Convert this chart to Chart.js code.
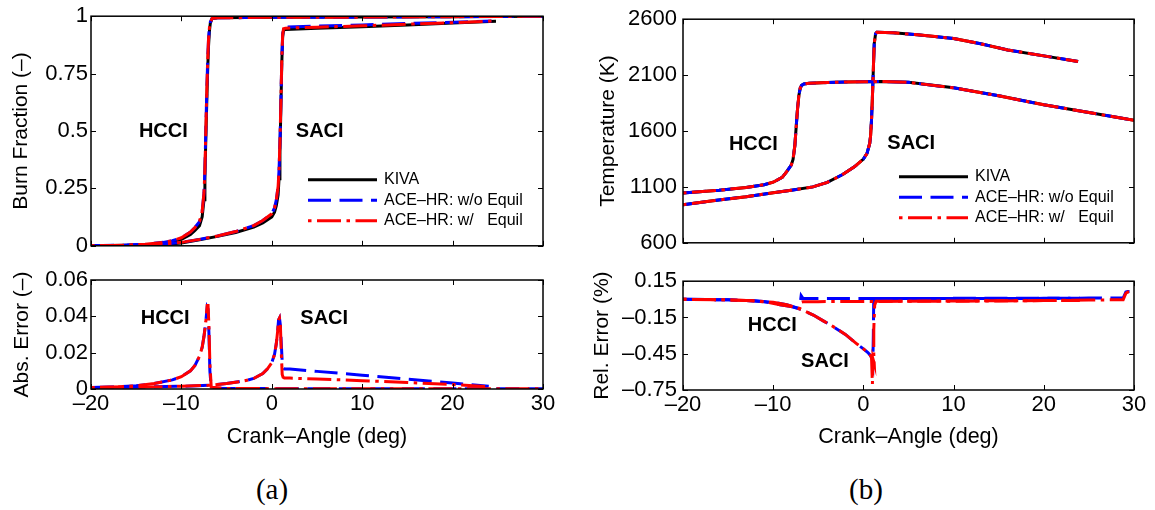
<!DOCTYPE html>
<html>
<head>
<meta charset="utf-8">
<script src="https://cdn.jsdelivr.net/npm/chart.js@4.4.0/dist/chart.umd.min.js"></script>
<style>
body { margin: 0; background: #fff; width: 1155px; height: 510px; overflow: hidden; position: relative; }
.panel { position: absolute; }
.cap { position: absolute; font-family: 'Liberation Serif', 'Times New Roman', serif; font-size: 29px; line-height: 1; transform: translateX(-50%); }
</style>
</head>
<body>
<div class="panel" style="left:0;top:0;width:560px;height:262px"><canvas id="burn"></canvas></div>
<div class="panel" style="left:0;top:262px;width:560px;height:193px"><canvas id="absErr"></canvas></div>
<div class="panel" style="left:580px;top:0;width:575px;height:262px"><canvas id="temp"></canvas></div>
<div class="panel" style="left:580px;top:262px;width:575px;height:193px"><canvas id="relErr"></canvas></div>
<div class="cap" style="left:272px;top:475px">(a)</div>
<div class="cap" style="left:866px;top:475px">(b)</div>
<script>
const family = "'Liberation Sans', Arial, Helvetica, sans-serif";
Chart.defaults.font.family = family;
Chart.defaults.color = "#000";

const seriesNames = ["KIVA", "ACE–HR: w/o Equil", "ACE–HR: w/   Equil"];
const xTicks = [-20, -10, 0, 10, 20, 30];
const burnTicks = [0, 0.25, 0.5, 0.75, 1];
const absTicks = [0, 0.02, 0.04, 0.06];
const tempTicks = [600, 1100, 1600, 2100, 2600];
const relTicks = [-0.75, -0.45, -0.15, 0.15];

// burn fraction
const hcciBurnX = [-20, -16, -14, -12, -11, -10, -9, -8.5, -8, -7.7, -7.5, -7.4, -7.3, -7.2, -7.1, -7.0, -6.9, -6.8, -6.6, -6, -3, 0, 10, 20, 30];
const hcciBurnKiva = [0, 0.002, 0.004, 0.01, 0.016, 0.028, 0.049, 0.067, 0.087, 0.127, 0.201, 0.297, 0.463, 0.615, 0.757, 0.87, 0.935, 0.97, 0.99, 0.993, 0.994, 0.995, 0.996, 0.998, 1.0];
const hcciBurnNoEq = [0, 0.003, 0.007, 0.015, 0.022, 0.035, 0.06, 0.08, 0.105, 0.15, 0.23, 0.33, 0.5, 0.66, 0.8, 0.9, 0.95, 0.975, 0.99, 0.993, 0.994, 0.995, 0.996, 0.998, 1.0];
const hcciBurnEq = [0, 0.003, 0.007, 0.015, 0.022, 0.035, 0.06, 0.08, 0.106, 0.151, 0.232, 0.333, 0.5, 0.66, 0.8, 0.9, 0.95, 0.975, 0.99, 0.993, 0.994, 0.995, 0.996, 0.998, 1.0];
const saciBurnX = [-20, -16, -12, -10, -8, -6, -4, -2, -1, 0, 0.3, 0.5, 0.7, 0.8, 0.9, 1.0, 1.1, 1.2, 1.3, 1.5, 5, 10, 15, 20, 24.3];
const saciBurnKivaX = [-20, -16, -12, -10, -8, -6, -4, -2, -1, 0, 0.3, 0.5, 0.7, 0.8, 0.9, 1.0, 1.1, 1.2, 1.3, 1.5, 5, 10, 15, 20, 24.8];
const saciBurnKiva = [0, 0.001, 0.005, 0.012, 0.026, 0.041, 0.058, 0.081, 0.1, 0.126, 0.146, 0.175, 0.222, 0.292, 0.41, 0.59, 0.79, 0.91, 0.94, 0.942, 0.947, 0.954, 0.962, 0.97, 0.978];
const saciBurnNoEq = [0, 0.002, 0.007, 0.015, 0.028, 0.043, 0.062, 0.088, 0.11, 0.14, 0.165, 0.2, 0.26, 0.33, 0.45, 0.62, 0.8, 0.92, 0.951, 0.953, 0.957, 0.962, 0.968, 0.974, 0.979];
const saciBurnEq = [0, 0.002, 0.007, 0.015, 0.028, 0.043, 0.062, 0.088, 0.11, 0.14, 0.165, 0.2, 0.26, 0.33, 0.45, 0.62, 0.8, 0.92, 0.946, 0.948, 0.952, 0.958, 0.965, 0.972, 0.979];

// absolute error of burn fraction
const hcciErrX = [-20, -17, -15, -13, -11, -10, -9, -8.5, -8, -7.7, -7.5, -7.3, -7.15, -7.05, -6.95, -6.85, -6.7, -5, 0, 10, 20, 30];
const hcciErrNoEq = [0.0008, 0.0012, 0.0018, 0.003, 0.005, 0.0068, 0.01, 0.013, 0.018, 0.023, 0.029, 0.037, 0.045, 0.044, 0.03, 0.01, 0.0005, 0.0003, 0.0002, 0.0001, 0.0001, 0.0001];
const hcciErrEq = [0.0008, 0.0012, 0.0018, 0.003, 0.005, 0.0068, 0.01, 0.013, 0.018, 0.023, 0.029, 0.037, 0.046, 0.046, 0.034, 0.014, 0.001, 0.0003, 0.0002, 0.0001, 0.0001, 0.0001];
const saciErrX = [-20, -15, -10, -7, -5, -3, -2, -1, -0.5, 0, 0.3, 0.5, 0.65, 0.75, 0.85, 0.95, 1.05, 1.15, 1.25, 1.4, 2, 5, 10, 15, 20, 24];
const saciErrNoEq = [0.0008, 0.001, 0.0015, 0.002, 0.003, 0.0045, 0.0058, 0.0085, 0.011, 0.0145, 0.019, 0.025, 0.032, 0.038, 0.039, 0.035, 0.025, 0.015, 0.012, 0.011, 0.011, 0.0097, 0.0076, 0.0054, 0.0033, 0.0015];
const saciErrEq = [0.0008, 0.001, 0.0015, 0.002, 0.003, 0.0045, 0.0058, 0.0085, 0.011, 0.0145, 0.019, 0.025, 0.032, 0.038, 0.039, 0.035, 0.02, 0.008, 0.0065, 0.006, 0.006, 0.0055, 0.0046, 0.0036, 0.0025, 0.0013];

// temperature (K)
const hcciTempX = [-20, -16, -13, -11, -10, -9, -8.5, -8, -7.8, -7.6, -7.45, -7.3, -7.15, -7, -6.85, -6.6, -6, -4, -2, 0, 2, 5, 10, 15, 20, 25, 30];
const hcciTempKiva = [1046, 1070, 1095, 1120, 1142, 1185, 1237, 1295, 1345, 1470, 1640, 1800, 1920, 1985, 2008, 2020, 2027, 2033, 2038, 2041, 2042, 2035, 1986, 1915, 1834, 1765, 1695];
const hcciTempNoEq = [1046, 1070, 1095, 1120, 1142, 1185, 1237, 1295, 1345, 1470, 1640, 1800, 1920, 1985, 2008, 2020, 2027, 2033, 2038, 2041, 2042, 2035, 1986, 1915, 1834, 1765, 1696];
const hcciTempEq = [1046, 1070, 1095, 1120, 1142, 1185, 1237, 1295, 1345, 1470, 1640, 1800, 1920, 1985, 2008, 2020, 2027, 2033, 2038, 2041, 2042, 2035, 1986, 1915, 1834, 1765, 1695];
const saciTempX = [-20, -16.7, -13, -10, -8, -5.6, -4, -2.3, -1, 0, 0.4, 0.7, 0.8, 0.9, 1.0, 1.1, 1.2, 1.35, 1.5, 3.3, 6, 10, 13, 16, 20, 23.8];
const saciTempKiva = [940, 976, 1012, 1048, 1070, 1100, 1140, 1211, 1280, 1349, 1400, 1488, 1560, 1700, 1903, 2150, 2380, 2470, 2484, 2478, 2460, 2428, 2380, 2325, 2272, 2222];
const saciTempNoEq = [940, 976, 1012, 1048, 1070, 1100, 1140, 1211, 1280, 1349, 1400, 1488, 1560, 1700, 1903, 2150, 2380, 2470, 2484, 2478, 2460, 2428, 2380, 2325, 2272, 2222];
const saciTempEq = [940, 976, 1012, 1048, 1070, 1100, 1140, 1211, 1280, 1349, 1400, 1488, 1560, 1700, 1903, 2150, 2380, 2470, 2484, 2478, 2460, 2428, 2380, 2325, 2272, 2222];

// relative error of temperature (%)
const hcciRelX = [-20, -17, -15, -13, -11, -9.25, -8, -7.4, -7.1, -7.0, -6.9, -6.7, -5, 0, 5, 10, 15, 20, 25, 28.8, 29.1, 29.3, 30];
const hcciRelNoEq = [0, -0.002, -0.004, -0.009, -0.02, -0.044, -0.06, -0.072, -0.078, -0.03, 0.03, 0.008, 0.006, 0.006, 0.007, 0.008, 0.008, 0.009, 0.01, 0.011, 0.06, 0.065, 0.065];
const hcciRelEq = [0, -0.002, -0.004, -0.009, -0.02, -0.044, -0.06, -0.072, -0.078, -0.06, -0.025, -0.02, -0.019, -0.018, -0.016, -0.015, -0.013, -0.01, -0.006, -0.003, 0.05, 0.06, 0.06];
const saciRelNoEqX = [-20, -15, -12, -10, -8.5, -7, -5.55, -4.4, -3.3, -2, -0.7, 0, 0.5, 0.73, 0.9, 1.0, 1.05, 1.1, 1.15, 1.3, 5, 10, 15, 20, 24];
const saciRelNoEq = [0, -0.004, -0.012, -0.025, -0.045, -0.08, -0.13, -0.18, -0.228, -0.29, -0.37, -0.41, -0.44, -0.46, -0.48, -0.5, -0.52, -0.3, 0.03, 0.008, 0.006, 0.006, 0.007, 0.008, 0.008];
const saciRelEqX = [-20, -15, -12, -10, -8.5, -7, -5.55, -4.4, -3.3, -2, -0.7, 0, 0.5, 0.73, 0.9, 1.0, 1.05, 1.2, 1.15, 1.15, 1.25, 1.4, 5, 10, 15, 20, 24];
const saciRelEq = [0, -0.004, -0.012, -0.025, -0.045, -0.08, -0.13, -0.18, -0.228, -0.29, -0.37, -0.41, -0.44, -0.46, -0.48, -0.7, -0.49, -0.53, -0.45, -0.25, -0.05, -0.016, -0.015, -0.014, -0.012, -0.01, -0.009];

const kivaStyle = { borderColor: "#000000", borderWidth: 3, borderDash: [], order: 2 };
const noEqStyle = { borderColor: "#0000ff", borderWidth: 3, borderDash: [23, 8.5], order: 1 };
const eqStyle = { borderColor: "#ff0000", borderWidth: 3, borderDash: [3.5, 5.5, 24, 5.5], order: 0 };
const legendStyles = [kivaStyle, noEqStyle, eqStyle];

function series(xs, ys, style) {
  return Object.assign({
    data: xs.map((x, i) => ({ x: x, y: ys[i] })),
    pointRadius: 0,
    tension: 0,
    fill: false,
    borderCapStyle: "butt"
  }, style);
}

function fmt(v) {
  return String(v).replace("-", "–");
}

// box with inward ticks on all four sides, like matlab
const framePlugin = {
  id: "frame",
  afterDatasetsDraw(chart, args, opts) {
    const { ctx, chartArea: a, scales: { x, y } } = chart;
    ctx.save();
    ctx.strokeStyle = "#000";
    ctx.lineWidth = 1;
    ctx.beginPath();
    xTicks.forEach(v => {
      const px = Math.round(x.getPixelForValue(v)) + 0.5;
      ctx.moveTo(px, a.bottom); ctx.lineTo(px, a.bottom - 5);
      ctx.moveTo(px, a.top); ctx.lineTo(px, a.top + 5);
    });
    opts.yTicks.forEach(v => {
      const py = Math.round(y.getPixelForValue(v)) + 0.5;
      ctx.moveTo(a.left, py); ctx.lineTo(a.left + 5, py);
      ctx.moveTo(a.right, py); ctx.lineTo(a.right - 5, py);
    });
    ctx.stroke();
    ctx.lineWidth = 1.5;
    ctx.strokeRect(a.left, a.top, a.right - a.left, a.bottom - a.top);
    ctx.restore();
  }
};

// HCCI / SACI labels
const notesPlugin = {
  id: "notes",
  afterDraw(chart, args, opts) {
    const { ctx, scales: { x, y } } = chart;
    ctx.save();
    ctx.font = "bold 20px " + family;
    ctx.fillStyle = "#000";
    ctx.textAlign = "center";
    ctx.textBaseline = "middle";
    opts.items.forEach(n => {
      ctx.fillText(n.text, x.getPixelForValue(n.x), y.getPixelForValue(n.y));
    });
    ctx.restore();
  }
};

// legend inside the axes, lower right
const legendPlugin = {
  id: "innerLegend",
  afterDraw(chart, args, opts) {
    if (!opts.show) return;
    const { ctx, chartArea: a } = chart;
    const rows = [66, 45.5, 25];
    ctx.save();
    ctx.font = "16px " + family;
    ctx.textBaseline = "middle";
    ctx.fillStyle = "#000";
    legendStyles.forEach((st, i) => {
      const y = a.bottom - rows[i];
      ctx.beginPath();
      ctx.setLineDash(st.borderDash);
      ctx.strokeStyle = st.borderColor;
      ctx.lineWidth = st.borderWidth;
      ctx.moveTo(a.right - 235, y);
      ctx.lineTo(a.right - 166, y);
      ctx.stroke();
      ctx.setLineDash([]);
      ctx.fillText(seriesNames[i], a.right - 159, y);
    });
    ctx.restore();
  }
};

function makeChart(id, datasets, cfg) {
  return new Chart(document.getElementById(id), {
    type: "line",
    data: { datasets: datasets },
    options: {
      animation: false,
      responsive: true,
      maintainAspectRatio: false,
      layout: { padding: cfg.padding },
      plugins: {
        legend: { display: false },
        tooltip: { enabled: false },
        frame: { yTicks: cfg.yTicks },
        notes: { items: cfg.notes },
        innerLegend: { show: cfg.legend }
      },
      scales: {
        x: {
          type: "linear",
          min: -20,
          max: 30,
          display: cfg.xHeight > 0,
          afterBuildTicks: s => { s.ticks = xTicks.map(v => ({ value: v })); },
          afterFit: s => { s.height = cfg.xHeight; },
          grid: { display: false, drawTicks: false },
          border: { display: false },
          ticks: { padding: 2, maxRotation: 0, autoSkip: false, font: { size: 22 }, callback: fmt },
          title: { display: true, text: "Crank–Angle (deg)", font: { size: 21.5 }, padding: { top: 0, bottom: 5 } }
        },
        y: {
          type: "linear",
          min: cfg.yMin,
          max: cfg.yMax,
          afterBuildTicks: s => { s.ticks = cfg.yTicks.map(v => ({ value: v })); },
          afterFit: s => { s.width = cfg.yWidth; },
          grid: { display: false, drawTicks: false },
          border: { display: false },
          ticks: { padding: cfg.yPad, autoSkip: false, font: { size: 22 }, callback: fmt },
          title: { display: true, text: cfg.yTitle, font: { size: 21 }, padding: { top: cfg.titlePad, bottom: 0 } }
        }
      }
    },
    plugins: [framePlugin, notesPlugin, legendPlugin]
  });
}

makeChart("burn", [
  series(hcciBurnX, hcciBurnKiva, kivaStyle),
  series(saciBurnKivaX, saciBurnKiva, kivaStyle),
  series(hcciBurnX, hcciBurnNoEq, noEqStyle),
  series(saciBurnX, saciBurnNoEq, noEqStyle),
  series(hcciBurnX, hcciBurnEq, eqStyle),
  series(saciBurnX, saciBurnEq, eqStyle)
], {
  padding: { left: 0, top: 15, right: 17, bottom: 5 },
  xHeight: 0, yWidth: 91, yPad: 3, titlePad: 9,
  yMin: 0, yMax: 1, yTicks: burnTicks, yTitle: "Burn Fraction (–)",
  notes: [{ text: "HCCI", x: -12, y: 0.5 }, { text: "SACI", x: 5.3, y: 0.5 }],
  legend: true
});

makeChart("absErr", [
  series(hcciErrX, hcciErrNoEq, noEqStyle),
  series(saciErrX, saciErrNoEq, noEqStyle),
  series(hcciErrX, hcciErrEq, eqStyle),
  series(saciErrX, saciErrEq, eqStyle)
], {
  padding: { left: 0, top: 18, right: 17, bottom: 0 },
  xHeight: 66, yWidth: 91, yPad: 3, titlePad: 10,
  yMin: 0, yMax: 0.06, yTicks: absTicks, yTitle: "Abs. Error (–)",
  notes: [{ text: "HCCI", x: -11.8, y: 0.039 }, { text: "SACI", x: 5.8, y: 0.039 }],
  legend: false
});

makeChart("temp", [
  series(hcciTempX, hcciTempKiva, kivaStyle),
  series(saciTempX, saciTempKiva, kivaStyle),
  series(hcciTempX, hcciTempNoEq, noEqStyle),
  series(saciTempX, saciTempNoEq, noEqStyle),
  series(hcciTempX, hcciTempEq, eqStyle),
  series(saciTempX, saciTempEq, eqStyle)
], {
  padding: { left: 0, top: 16, right: 21, bottom: 5 },
  xHeight: 0, yWidth: 103, yPad: 6, titlePad: 16,
  yMin: 600, yMax: 2600, yTicks: tempTicks, yTitle: "Temperature (K)",
  notes: [{ text: "HCCI", x: -12.2, y: 1482 }, { text: "SACI", x: 5.3, y: 1488 }],
  legend: true
});

makeChart("relErr", [
  series(hcciRelX, hcciRelNoEq, noEqStyle),
  series(saciRelNoEqX, saciRelNoEq, noEqStyle),
  series(hcciRelX, hcciRelEq, eqStyle),
  series(saciRelEqX, saciRelEq, eqStyle)
], {
  padding: { left: 0, top: 19, right: 21, bottom: 0 },
  xHeight: 65, yWidth: 103, yPad: 6, titlePad: 10,
  yMin: -0.75, yMax: 0.15, yTicks: relTicks, yTitle: "Rel. Error (%)",
  notes: [{ text: "HCCI", x: -10.1, y: -0.215 }, { text: "SACI", x: -4.26, y: -0.51 }],
  legend: false
});
</script>
</body>
</html>
